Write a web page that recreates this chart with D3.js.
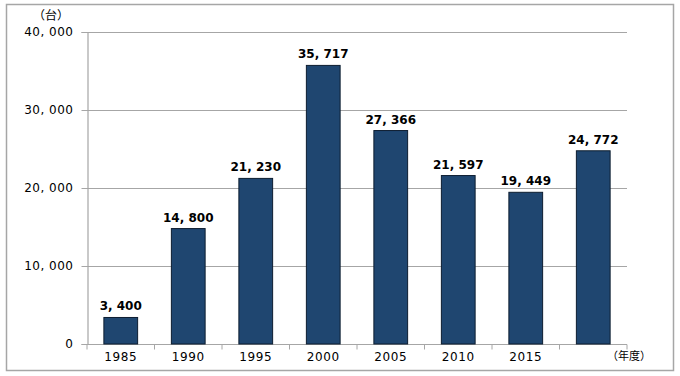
<!DOCTYPE html>
<html>
<head>
<meta charset="utf-8">
<script src="https://cdn.jsdelivr.net/npm/d3@7"></script>
<style>
  body { margin: 0; background: #fff; }
  text { font-family: "Noto Sans CJK JP", "DejaVu Sans", sans-serif; }
</style>
</head>
<body>
<div id="chart"></div>
<script>
const years = ["1985", "1990", "1995", "2000", "2005", "2010", "2015", ""];
const counts = [3400, 14800, 21230, 35717, 27366, 21597, 19449, 24772];
const yTicks = [0, 10000, 20000, 30000, 40000];

const width = 680;
const height = 376;
const margin = { top: 32, right: 53, bottom: 32, left: 87 };

const svg = d3
  .select("#chart")
  .append("svg")
  .attr("width", width)
  .attr("height", height);

// outer frame
svg
  .append("rect")
  .attr("x", 6.5)
  .attr("y", 4.5)
  .attr("width", 667)
  .attr("height", 366)
  .style("fill", "#fff")
  .style("stroke", "#a6a6a6")
  .style("stroke-width", 1.5);

const x = d3
  .scaleBand()
  .domain(d3.range(years.length))
  .range([margin.left, width - margin.right])
  .paddingInner(0.5)
  .paddingOuter(0.25);

const y = d3
  .scaleLinear()
  .domain([0, 40000])
  .range([height - margin.bottom, margin.top]);

const fmt = (v) => (v === 0 ? "0" : d3.format(",")(v).replace(",", ", "));

// grid lines
svg
  .selectAll(".grid")
  .data(yTicks.slice(1))
  .enter()
  .append("line")
  .attr("x1", margin.left)
  .attr("x2", width - margin.right)
  .attr("y1", (d) => Math.round(y(d)) + 0.5)
  .attr("y2", (d) => Math.round(y(d)) + 0.5)
  .style("stroke", "#a6a6a6")
  .style("stroke-width", 1.2);

// y axis
const yAxis = svg
  .append("g")
  .attr("transform", `translate(${margin.left + 0.5},0)`)
  .call(
    d3.axisLeft(y).tickValues(yTicks).tickSize(6).tickPadding(8).tickFormat(fmt)
  );
yAxis.select(".domain").style("stroke", "#a6a6a6").style("stroke-width", 1.2);
yAxis.selectAll(".tick line").style("stroke", "#a6a6a6");
yAxis
  .selectAll(".tick text")
  .style("font-size", "12px")
  .style("letter-spacing", "0.5px")
  .style("fill", "#000")
  .style("font-family", "'DejaVu Sans', sans-serif");

// x axis
const xAxisG = svg
  .append("g")
  .attr("transform", `translate(0,${height - margin.bottom + 0.5})`);
xAxisG
  .append("line")
  .attr("x1", margin.left)
  .attr("x2", width - margin.right)
  .style("stroke", "#a6a6a6")
  .style("stroke-width", 1.2);
const slot = (width - margin.left - margin.right) / years.length;
xAxisG
  .selectAll(".xtick")
  .data(d3.range(years.length + 1))
  .enter()
  .append("line")
  .attr("x1", (i) => margin.left + i * slot)
  .attr("x2", (i) => margin.left + i * slot)
  .attr("y1", 0)
  .attr("y2", 5)
  .style("stroke", "#a6a6a6");
xAxisG
  .selectAll(".xlabel")
  .data(years)
  .enter()
  .append("text")
  .attr("x", (d, i) => x(i) + x.bandwidth() / 2)
  .attr("y", 16)
  .attr("text-anchor", "middle")
  .style("font-size", "12px")
  .style("letter-spacing", "0.6px")
  .style("font-family", "'DejaVu Sans', sans-serif")
  .text((d) => d);

// bars
svg
  .selectAll(".bar")
  .data(counts)
  .enter()
  .append("rect")
  .attr("x", (d, i) => x(i))
  .attr("y", (d) => y(d))
  .attr("width", x.bandwidth())
  .attr("height", (d) => y(0) - y(d))
  .style("fill", "#1f4670")
  .style("stroke", "#0d1d30")
  .style("stroke-width", 1);

// value labels
svg
  .selectAll(".val")
  .data(counts)
  .enter()
  .append("text")
  .attr("x", (d, i) => x(i) + x.bandwidth() / 2)
  .attr("y", (d) => y(d) - 7)
  .attr("text-anchor", "middle")
  .style("font-size", "12px")
  .style("font-weight", "bold")
  .style("font-family", "'DejaVu Sans', sans-serif")
  .text(fmt);

// units
svg
  .append("text")
  .attr("x", 51)
  .attr("y", 20)
  .attr("text-anchor", "middle")
  .style("font-size", "12px")
  .text("（台）");

svg
  .append("text")
  .attr("x", 629)
  .attr("y", 360)
  .attr("text-anchor", "middle")
  .style("font-size", "11px")
  .text("（年度）");
</script>
</body>
</html>
